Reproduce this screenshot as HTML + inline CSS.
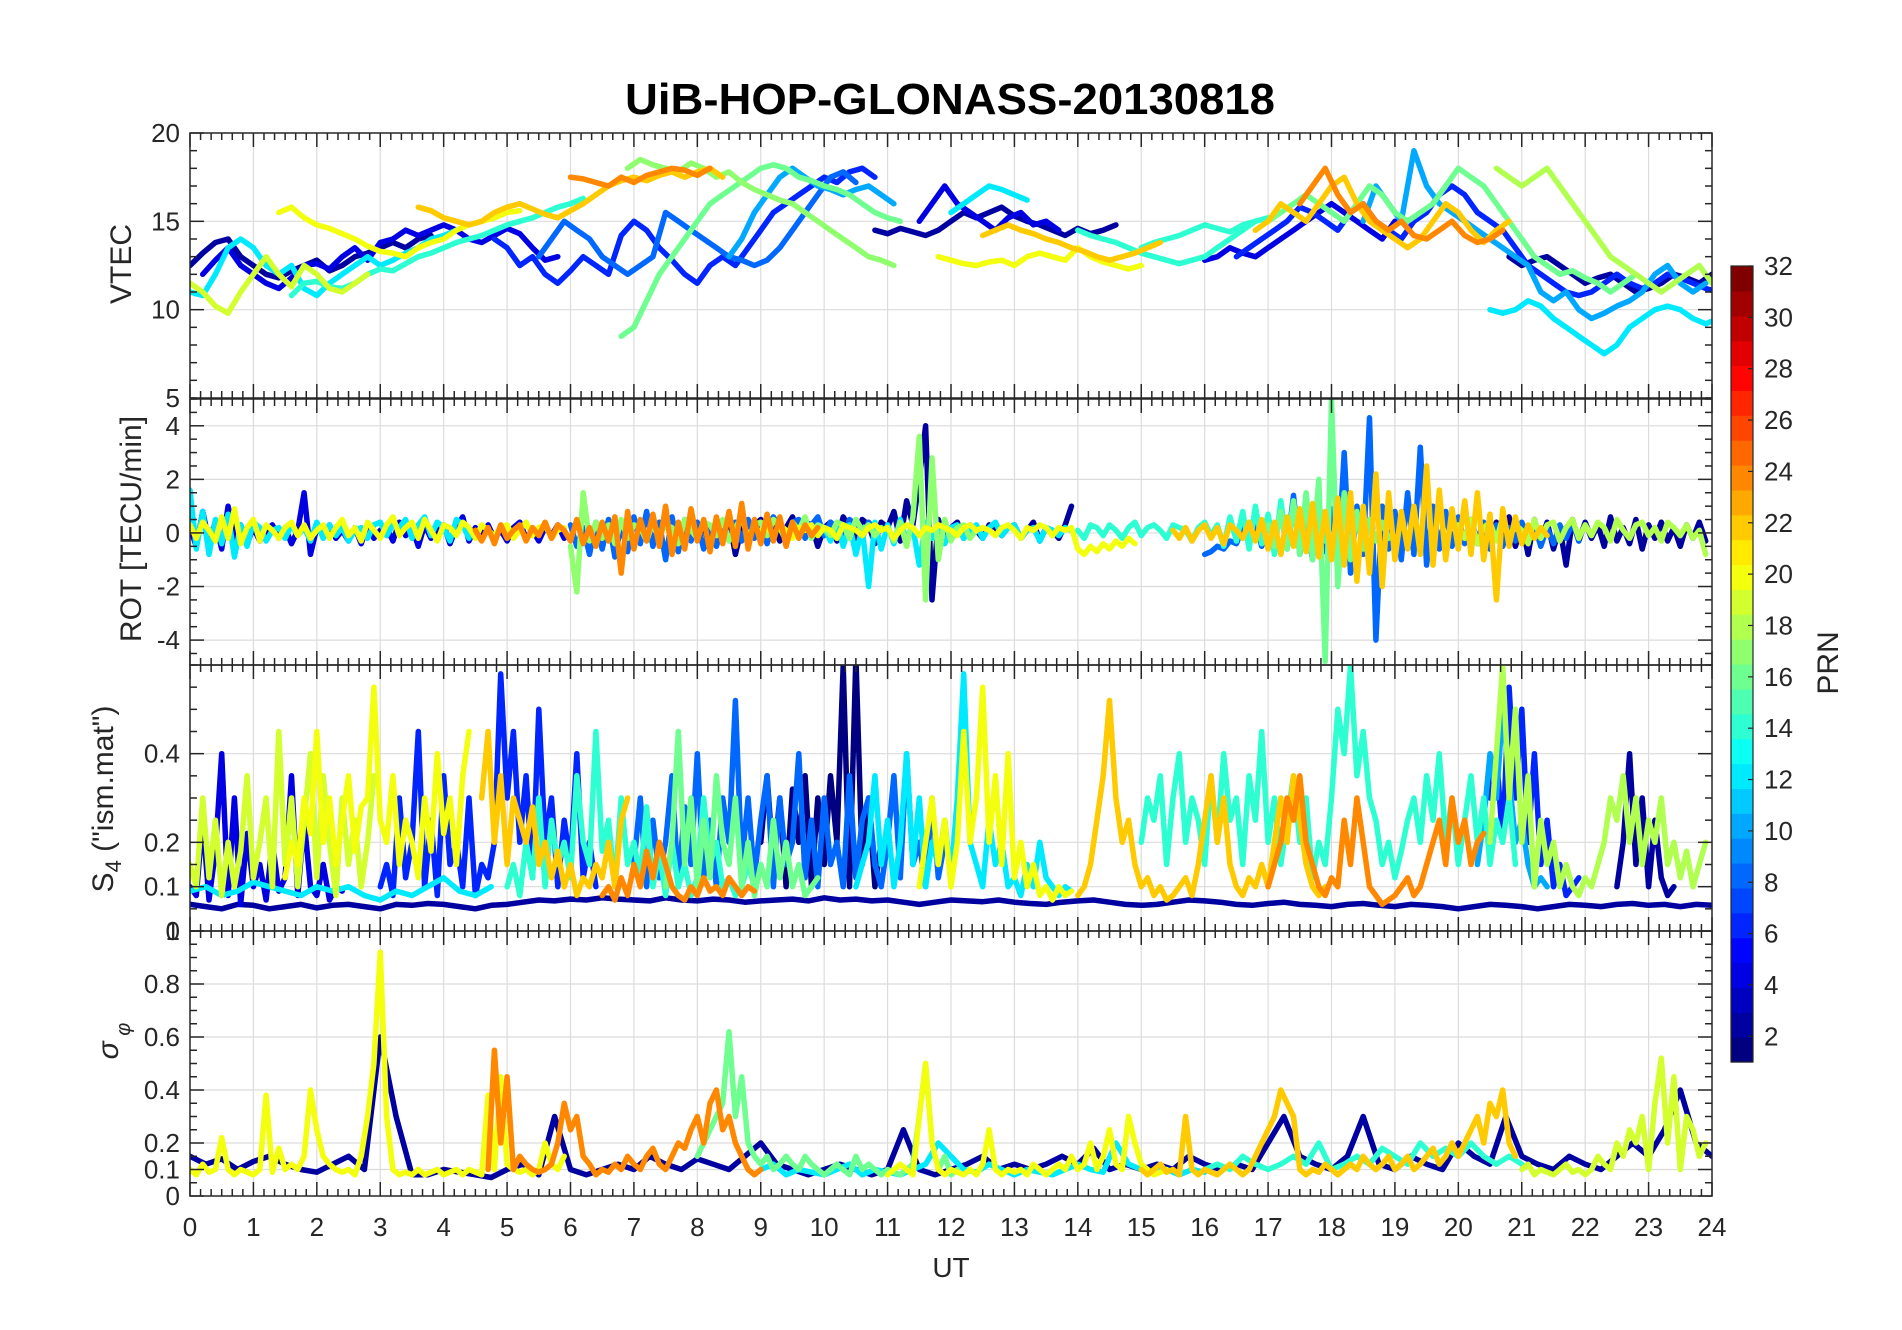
<!DOCTYPE html>
<html><head><meta charset="utf-8"><style>
html,body{margin:0;padding:0;background:#fff;}
svg{display:block;font-family:"Liberation Sans",Arial,sans-serif;}
</style></head><body>
<svg id="fig" width="1902" height="1330" viewBox="0 0 1902 1330" xmlns="http://www.w3.org/2000/svg">
<rect x="0" y="0" width="1902" height="1330" fill="#fff"/>
<text x="950" y="114" text-anchor="middle" font-size="44" font-weight="bold" fill="#000" textLength="650" lengthAdjust="spacingAndGlyphs">UiB-HOP-GLONASS-20130818</text>
<g id="panels"></g>
<g id="cbar"></g>
<text x="951" y="1277" text-anchor="middle" font-size="28" fill="#262626">UT</text>
<text transform="translate(131,264) rotate(-90)" text-anchor="middle" font-size="30" fill="#262626">VTEC</text>
<text transform="translate(141,529) rotate(-90)" text-anchor="middle" font-size="30" fill="#262626">ROT [TECU/min]</text>
<text transform="translate(113,799) rotate(-90)" text-anchor="middle" font-size="30" fill="#262626">S<tspan font-size="22" dy="8">4</tspan><tspan dy="-8"> ("ism.mat")</tspan></text>
<text transform="translate(118,1041) rotate(-90)" text-anchor="middle" font-size="30" font-style="italic" fill="#262626">σ<tspan font-size="20" dy="12"> φ</tspan></text>
<text transform="translate(1838,663) rotate(-90)" text-anchor="middle" font-size="30" fill="#262626">PRN</text>
</svg>
<script>
// ---------- DATA ----------
const xTicks = [0,1,2,3,4,5,6,7,8,9,10,11,12,13,14,15,16,17,18,19,20,21,22,23,24];
const cbarTicks = [2,4,6,8,10,12,14,16,18,20,22,24,26,28,30,32];

const vtecPrn = [2,4,6,8,10,12,14,16,17,20,22,24,19,2,4,12,20,22,14,6,10,12,16,22,24,2,18,4,14];
const vtecStart = [0,0.2,4.8,5.5,8.5,0,1.6,6.8,6.9,1.4,3.6,6,0,10.8,11.5,12,11.8,12.5,14,16.5,18.5,20.5,17,16.8,17.5,20.8,20.6,16,15];
const vtecValues = [
[12.5,13.2,13.8,14,13,12.5,12,11.8,12.2,12.5,12.8,12.2,12.5,13,13.2,13.5,13.8,13.5,14,14.2],
[12,12.8,13.5,12.5,12,11.5,11.2,11.8,12.5,12.6,12.3,13,13.5,12.8,13.8,14,14.5,14.2,14.5,14.8,14.5,14,13.8,14.2,14.6,14.3,13.5,12.8,13],
[14,13.5,12.5,13,12,11.5,12.2,13,12.5,12,14.2,15,14.5,13.5,12.8,12,11.5,12.5,13,12.5,13.5,14.5,15.5,16,16.5,17,17.5,17.2,17.8,18,17.5],
[13,14,15,14.5,14,13,12.5,12,12.5,13,15.5,15,14.5,14,13.5,13,12.8,12.5,12.8,13.5,14.5,15.5,16.5,17.5,17.8,17.2],
[13,14,15.5,16.5,17.5,18,17.5,17,16.8,16.5,16.8,17,16.5,16],
[11,10.8,12,13.5,14,13.5,12.5,12,12.5,11.2,10.8,11.5,12,12.5,13,12.5,12.8,13.2,13.5,14,14.2,14.5],
[10.8,11.5,11.6,11.3,11.2,11.5,12,12.3,12.2,12.6,13,13.2,13.5,13.8,14,14.2,14.5,14.8,15,15.2,15.5,15.8,16,16.3],
[8.5,9,10.5,12,13,14,15,16,16.5,17,17.5,18,18.2,18,17.5,17.3,17,16.8,16.5,16,15.5,15.2,15],
[18,18.5,18.2,18,17.8,18.3,18,17.5,17.8,17.2,16.8,16.5,16.2,16,15.5,15,14.5,14,13.5,13,12.8,12.5],
[15.5,15.8,15.2,14.8,14.6,14.3,14,13.6,13.3,13.2,13,13.5,13.8,14,14.5,14.8,15,15.2,15.5,15.6],
[15.8,15.6,15.2,15,14.8,15,15.5,15.8,16,15.7,15.4,15.2,15.6,16,16.5,17,17.3,17.5,17.3,17.6,17.8,17.5,17.8,18,17.5],
[17.5,17.4,17.2,17,17.5,17.2,17.6,17.8,18,17.9,17.6,18],
[11.5,11,10.2,9.8,11,12,13,12,11.3,12.5,12,11.2,11,11.5,12],
[14.5,14.3,14.6,14.4,14.2,14.5,15,15.5,15.2,15.5,15.8,15.3,15,14.8,14.5,14.2,14.6,14.3,14.5,14.8],
[15,16,17,16,15.5,15,14.5,15.2,15.5,14.8,15,14.5],
[15.5,16,16.5,17,16.8,16.5,16.2],
[13,12.8,12.6,12.5,12.7,12.8,12.5,13,13.2,13,12.8,13.5,13,12.7,12.5,12.3,12.5],
[14.2,14.5,14.8,14.5,14.3,14,13.8,13.5,13.3,13,12.8,13,13.2,13.5,13.8],
[14.5,14.2,14,13.8,13.5,13.2,13,12.8,12.6,12.8,13,13.5,14,14.5,15],
[13,13.5,14,14.5,15,15.8,15.5,15,14.5,15.5,16,15,14.5,14,15,15.5,16.5,17,16.5,15.5,15,14.5,13.5,12.5,12,11.5,11,10.8,11,11.5,12,11.5,11.2,11.5,12,11.8,11.5,11.2,11],
[15,17,16,15,19,17,16,15.5,15,14.5,14,13.5,13,12.5,11,10.5,11,10,9.5,9.8,10.2,10.5,11,12,12.5,11.5,11,11.5],
[10,9.8,10,10.5,10.2,9.5,9,8.5,8,7.5,8,9,9.5,10,10.2,10,9.5,9.2,9.5],
[15,15.5,16,16.5,16,15.5,15,16,17,16.5,15.5,15,15.5,16,17,18,17.5,17,16,15,14,13,12.5,12,12.2,11.8,11.5,11,11.5,12],
[14.5,15,16,15.5,15,16,17,17.5,16,15,14.5,14,13.5,14,15,16,15.5,14.5,13.8,14.5,15],
[16,17,18,16.5,15.5,16,15,14.5,15,14.2,14,14.5,15,14.2,13.8,14,14.5],
[13,12.5,12.8,13,12.5,12,11.5,11.8,12,11.5,11,11.2,11.5,12,11.8,11.5,12,11.5],
[18,17.5,17,17.5,18,17,16,15,14,13,12.5,12,11.5,11,11.5,12,12.5,11.5,11,10.5,10,9.5,9.8,10],
[12.8,13,13.5,13.2,13,13.5,14,14.5,15,15.5,16,15.5,15,14.5,14,15],
[13.5,13.8,14,14.2,14.5,14.8,14.6,14.4,14.8,15,15.2]
];

const rotPrn = [4,12,20,24,8,17,2,12,17,20,14,22,8,16,2,18];
const rotStart = [0,0,0,4.5,6,6,8,10,11,9,14,15.5,16,17,20,20];
const rotValues = [
[0.2,-0.5,0.8,-0.3,0.4,-0.6,1.0,-0.2,0.3,-0.4,0.2,-0.3,0.1,0.3,-0.2,0.2,-0.4,0.1,1.5,-0.8,0.2,-0.1,0.3,-0.2,0.1,-0.3,0.2,-0.4,0.3,-0.2,0.1,0.2,-0.3,0.4,-0.1,0.2,-0.5,0.3,-0.2,0.1,0.3,-0.4,0.2,0.6,-0.3,0.2,-0.1,0.3,-0.2,0.1,-0.3,0.2,0.4,-0.2,0.1,-0.3,0.2,-0.1,0.3,-0.2],
[1.6,-0.6,0.8,-0.8,0.5,-0.4,0.7,-0.9,0.3,-0.5,0.4,0.2,-0.3,0.1,0.2,-0.2,0.3,-0.1,0.2,-0.3,0.4,-0.2,0.3,-0.1,0.2,-0.3,0.1,0.2,-0.2,0.3,0.4,-0.1,0.3,0.2,0.5,-0.2,0.3,0.6,-0.1,0.4,0.2,-0.3,0.5,0.3,-0.2],
[0.3,-0.2,0.4,0.1,-0.3,0.6,-0.2,0.9,-0.4,0.2,0.5,-0.3,0.3,0.1,-0.2,0.2,0.4,-0.1,0.3,-0.2,0.1,0.3,-0.2,0.2,0.5,-0.1,0.2,-0.3,0.4,0.1,-0.2,0.3,0.6,-0.1,0.2,0.4,-0.2,0.5,0.1,-0.3,0.3,0.2,-0.1,0.4,0.2,-0.2,0.3,0.1,-0.1,0.2,0.3,-0.2,0.1,0.4,-0.1,0.2,0.3,-0.2,0.1,0.2],
[0.1,-0.3,0.2,-0.4,0.3,-0.2,0.1,0.3,-0.3,0.2,-0.1,0.4,-0.2,0.3,0.1,-0.3,0.5,-0.4,0.2,-0.5,0.4,-0.3,0.6,-1.5,0.8,-0.6,0.5,-0.3,0.7,-0.5,1.0,-0.8,0.4,-0.6,0.9,-0.3,0.5,-0.7,0.6,-0.4,0.8,-0.5,1.1,-0.6,0.5,-0.4,0.7,-0.3,0.6,-0.5,0.4,-0.2,0.3,-0.1,0.2],
[0.3,-0.5,0.2,-0.8,0.4,-0.6,0.5,-0.9,0.3,-0.7,0.6,-0.4,0.8,-0.5,0.4,-1.0,0.6,-0.7,0.5,-0.3,0.4,-0.6,0.2,-0.5,0.3,-0.2,0.4,-0.3,0.5,-0.2,0.3,-0.4,0.6,0.2,-0.3,0.4,0.5,-0.2,0.3,0.6,-0.1,0.4,0.2,-0.3,0.5,0.3,-0.2,0.4,0.1,0.2],
[-0.5,-2.2,1.5,-0.3,0.4,-0.2,0.3,-0.4,0.5,-0.2,0.3,0.2,-0.3,0.4,-0.1,0.3,0.2,-0.4,0.5,0.1,-0.2,0.4,0.3,-0.1,0.5,-0.3,0.2,0.6,-0.2,0.3,0.4,-0.1,0.5,0.2,-0.3,0.4,0.1,0.6,-0.2,0.3,0.2,-0.1,0.4,0.3,-0.2,0.5,0.1,0.3,-0.1,0.2],
[-0.2,0.3,-0.6,0.4,-0.3,0.5,-0.8,0.2,-0.4,0.3,0.5,-0.2,0.4,-0.3,0.2,0.6,-0.1,0.4,0.3,-0.5,0.2,0.4,-0.3,0.6,0.2,-0.2,0.5,0.3,-0.4,0.4,0.2,0.8,-0.3,1.2,0.3,2.0,4.0,-2.5,0.5,-0.3,0.2,0.4,-0.2,0.3,0.1,-0.2,0.3,0.2,-0.1,0.2,0.3,-0.2,0.1,0.4,-0.3,0.2,0.1,-0.2,0.3,1.0],
[0.2,-0.3,0.4,-0.5,0.3,-0.8,0.2,-2.0,0.4,-0.6,0.3,-0.4,0.5,-0.3,0.2,-1.2,0.4,-0.2,0.3,-0.4,0.2,0.3,-0.2,0.1,0.3,-0.2,0.2,0.4,-0.1,0.2,0.3,-0.2,0.1,0.2,-0.3,0.2,0.1,-0.1,0.2,0.1],
[0.2,-0.3,0.4,-0.5,0.6,3.6,-2.5,2.8,-1.0,0.5,-0.3,0.2,0.3,-0.2,0.1],
[0.1,0.2,-0.1,0.3,0.1,-0.2,0.2,0.1,0.3,-0.1,0.2,0.1,-0.2,0.3,0.2,0.1,-0.1,0.2,0.3,0.1,0.2,-0.2,0.1,0.3,0.2,-0.1,0.2,0.1,0.3,0.2,0.1,-0.1,0.2,0.3,0.1,0.2,0.1,-0.1,0.2,0.3,0.1,-0.2,0.2,0.1,0.3,0.2,-0.1,0.2,0.1,0.2,-0.6,-0.8,-0.5,-0.7,-0.4,-0.6,-0.3,-0.5,-0.2,-0.4],
[0.1,-0.2,0.3,0.2,-0.1,0.3,0.1,-0.2,0.2,0.4,-0.1,0.2,0.3,0.1,-0.2,0.3,0.2,0.1,-0.3,0.2,0.4,-0.1,0.3,-0.5,0.6,-0.3,0.8,-0.6,1.0,-0.4,0.7,-0.8,1.2,-0.6,0.9,-0.5,0.6,-0.4,0.8,-0.3],
[0.1,-0.2,0.2,-0.3,0.1,0.3,-0.2,0.2,-0.4,0.3,0.1,-0.2,0.4,-0.3,0.5,-0.6,0.4,-0.8,0.6,-0.5,0.9,-0.7,1.1,-0.9,0.8,-1.0,1.3,-1.2,1.5,-1.8,1.0,-1.5,2.2,-2.0,1.5,-1.0,0.8,-0.6,1.0,-0.8,2.5,-1.2,1.6,-1.0,0.9,-0.6,1.2,-0.8,1.5,-1.0,0.7,-2.5,0.9,-0.5,0.6,-0.4,0.3,-0.2,0.2,-0.1],
[-0.8,-0.7,-0.5,-0.6,-0.3,-0.4,0.2,-0.3,0.4,-0.5,0.6,-0.3,0.8,-0.6,1.4,-0.8,0.6,-1.0,1.2,-0.7,0.9,-1.2,3.0,-1.5,1.0,-0.8,4.3,-4.0,1.0,-0.6,0.8,-1.0,1.5,-0.8,3.2,-1.2,1.0,-0.6,0.8,-0.5,0.6,-0.4,0.5,-0.3,0.4,-0.6,0.3,-0.5,0.2,-0.3,0.4,-0.2,0.3,-0.5,0.2,-0.4,0.3,-0.2,0.4,-0.3],
[0.3,-0.5,0.8,-0.6,1.2,-0.8,1.5,-1.0,2.0,-4.8,5.0,-2.0,1.5,-1.0,0.8,-0.6,0.5,-0.3,0.4,-0.2],
[0.2,-0.3,0.5,-0.4,0.3,-0.6,0.4,-0.2,0.6,-0.5,0.3,-0.8,0.5,-0.3,0.4,-0.6,0.2,-1.2,0.5,-0.3,0.4,-0.2,0.3,-0.5,0.6,-0.3,0.2,-0.4,0.5,-0.6,0.3,-0.2,0.4,-0.3,0.2,-0.5,0.3,-0.2,0.4,-0.3],
[0.3,-0.2,0.5,-0.4,0.2,0.4,-0.3,0.6,-0.2,0.3,0.1,-0.4,0.5,-0.2,0.3,0.4,-0.3,0.2,0.5,-0.2,0.3,-0.1,0.4,0.2,-0.3,0.5,0.1,-0.2,0.3,0.4,-0.1,0.2,-0.3,0.4,0.2,-0.1,0.3,-0.2,0.1,-0.8]
];

const s4Prn = [2,12,19,20,4,6,22,14,24,8,1,12,20,16,22,14,24,18,6,10,2];
const s4Start = [0,0,0,1.5,0,3,4.6,5,6.5,7,9,10.5,11.5,7.5,14,15,17,20.5,20.5,20.3,22.5];
const s4Step = [0.25,0.25,0.1,0.1,0.1,0.1,0.1,0.1,0.1,0.1,0.1,0.1,0.1,0.1,0.1,0.1,0.1,0.1,0.1,0.1,0.1];
const s4Values = [
[0.06,0.055,0.05,0.06,0.058,0.05,0.055,0.06,0.052,0.058,0.06,0.055,0.05,0.06,0.058,0.062,0.06,0.055,0.05,0.058,0.06,0.065,0.07,0.068,0.072,0.07,0.075,0.072,0.07,0.068,0.075,0.07,0.068,0.072,0.07,0.065,0.068,0.07,0.072,0.068,0.075,0.07,0.072,0.068,0.07,0.065,0.06,0.065,0.07,0.068,0.066,0.07,0.065,0.062,0.06,0.065,0.068,0.07,0.065,0.06,0.058,0.06,0.065,0.07,0.068,0.065,0.06,0.058,0.062,0.065,0.06,0.058,0.055,0.06,0.062,0.058,0.055,0.06,0.058,0.055,0.05,0.055,0.06,0.058,0.055,0.05,0.055,0.06,0.058,0.055,0.06,0.062,0.058,0.06,0.055,0.06,0.058],
[0.09,0.1,0.08,0.09,0.11,0.1,0.09,0.08,0.1,0.09,0.1,0.08,0.07,0.09,0.08,0.1,0.12,0.09,0.08,0.1],
[0.15,0.1,0.3,0.12,0.25,0.08,0.2,0.1,0.18,0.35,0.12,0.2,0.3,0.1,0.45,0.15,0.3,0.1,0.25,0.4,0.12,0.35,0.2,0.08,0.3,0.15,0.25,0.1,0.2,0.35],
[0.12,0.2,0.15,0.3,0.22,0.45,0.2,0.3,0.15,0.25,0.35,0.18,0.28,0.3,0.55,0.25,0.2,0.35,0.15,0.25,0.2,0.12,0.3,0.18,0.4,0.22,0.3,0.15,0.35,0.45],
[0.1,0.08,0.25,0.07,0.18,0.4,0.08,0.3,0.06,0.22,0.1,0.15,0.07,0.2,0.09,0.12,0.35,0.08,0.25,0.1,0.08,0.15,0.07,0.1,0.09],
[0.1,0.15,0.08,0.3,0.12,0.2,0.45,0.1,0.25,0.08,0.35,0.15,0.2,0.1,0.3,0.08,0.15,0.12,0.2,0.58,0.3,0.45,0.2,0.35,0.12,0.5,0.2,0.3,0.1,0.25,0.15,0.4,0.12,0.2,0.1],
[0.3,0.45,0.2,0.35,0.15,0.3,0.25,0.2,0.28,0.15,0.2,0.12,0.18,0.1,0.15,0.08,0.12,0.1,0.15,0.12,0.2,0.1,0.25,0.3],
[0.1,0.15,0.08,0.2,0.12,0.3,0.1,0.25,0.15,0.2,0.12,0.35,0.2,0.15,0.45,0.18,0.25,0.1,0.3,0.15,0.2,0.12,0.28,0.1,0.18,0.08,0.2,0.1,0.15,0.08,0.12,0.3,0.15,0.2,0.1,0.12,0.08,0.1,0.15,0.1],
[0.08,0.1,0.07,0.12,0.08,0.15,0.1,0.18,0.12,0.2,0.15,0.1,0.08,0.07,0.1,0.08,0.12,0.09,0.1,0.08,0.12,0.1,0.08,0.1,0.09],
[0.15,0.3,0.1,0.25,0.12,0.2,0.35,0.1,0.28,0.15,0.4,0.12,0.25,0.1,0.3,0.2,0.52,0.15,0.3,0.12,0.25,0.35,0.1,0.3,0.15,0.2,0.4,0.12,0.25,0.1,0.3,0.15,0.2,0.1,0.35,0.12,0.25,0.3,0.15,0.1,0.2,0.35,0.12,0.4,0.15,0.2,0.1,0.3,0.12,0.2],
[0.2,0.35,0.15,0.3,0.1,0.32,0.2,0.35,0.1,0.3,0.15,0.35,0.2,0.6,0.1,0.62,0.15,0.3,0.1,0.2],
[0.1,0.15,0.2,0.35,0.15,0.25,0.1,0.2,0.4,0.15,0.3,0.1,0.2,0.15,0.25,0.12,0.3,0.58,0.2,0.15,0.1,0.25,0.15,0.2,0.1,0.12,0.08,0.15,0.1,0.2,0.12,0.1,0.08,0.1,0.09],
[0.1,0.2,0.3,0.15,0.25,0.1,0.2,0.45,0.2,0.3,0.55,0.2,0.35,0.15,0.4,0.12,0.2,0.1,0.15,0.08,0.1,0.07,0.1,0.08,0.09],
[0.1,0.2,0.45,0.15,0.3,0.1,0.25,0.12,0.35,0.2,0.15,0.3,0.1,0.2,0.08,0.15,0.1,0.25,0.12,0.2,0.1,0.15,0.08,0.1,0.12],
[0.08,0.1,0.15,0.25,0.35,0.52,0.3,0.2,0.25,0.15,0.1,0.12,0.08,0.1,0.07,0.08,0.1,0.12,0.08,0.15,0.25,0.35,0.2,0.3,0.15,0.1,0.08,0.12,0.1,0.15,0.1,0.2,0.3,0.2,0.35,0.25,0.15,0.1,0.08,0.1],
[0.2,0.3,0.25,0.35,0.15,0.3,0.4,0.2,0.3,0.25,0.15,0.35,0.2,0.4,0.25,0.3,0.15,0.35,0.25,0.45,0.2,0.3,0.15,0.25,0.35,0.2,0.3,0.12,0.2,0.15,0.3,0.5,0.4,0.6,0.35,0.45,0.3,0.25,0.15,0.2,0.12,0.18,0.25,0.3,0.2,0.35,0.25,0.4,0.2,0.3,0.15,0.25,0.35,0.2,0.3,0.15,0.25,0.2,0.3,0.15],
[0.1,0.15,0.2,0.3,0.25,0.35,0.2,0.15,0.1,0.08,0.12,0.1,0.25,0.15,0.3,0.2,0.1,0.08,0.06,0.07,0.08,0.1,0.12,0.08,0.1,0.15,0.2,0.25,0.15,0.3,0.2,0.25,0.15,0.2,0.22],
[0.2,0.4,0.6,0.3,0.5,0.2,0.35,0.1,0.25,0.15,0.2,0.1,0.15,0.1,0.08,0.12,0.1,0.15,0.2,0.3,0.25,0.35,0.2,0.3,0.15,0.25,0.2,0.3,0.15,0.2,0.12,0.18,0.1,0.15,0.2],
[0.3,0.4,0.2,0.55,0.3,0.5,0.2,0.4,0.15,0.25,0.1,0.15,0.08,0.1,0.12],
[0.15,0.25,0.4,0.3,0.5,0.35,0.2,0.25,0.15,0.1,0.12,0.1],
[0.1,0.2,0.4,0.15,0.3,0.1,0.25,0.12,0.08,0.1]
];

const sigPrn = [2,12,20,24,16,20,22,14,19];
const sigStart = [0,9,0,4.7,8,11,15,16,21];
const sigStep = [0.25,0.2,0.1,0.1,0.1,0.1,0.1,0.2,0.1];
const sigValues = [
[0.15,0.12,0.14,0.1,0.13,0.15,0.12,0.1,0.09,0.12,0.15,0.1,0.6,0.3,0.08,0.08,0.1,0.09,0.08,0.07,0.1,0.12,0.08,0.3,0.1,0.08,0.1,0.12,0.1,0.15,0.12,0.1,0.14,0.12,0.1,0.15,0.2,0.12,0.1,0.08,0.1,0.12,0.1,0.08,0.1,0.25,0.1,0.08,0.1,0.12,0.15,0.1,0.12,0.1,0.12,0.15,0.12,0.18,0.1,0.12,0.1,0.12,0.1,0.15,0.12,0.1,0.12,0.1,0.2,0.3,0.15,0.12,0.1,0.15,0.3,0.12,0.1,0.15,0.12,0.1,0.2,0.15,0.12,0.3,0.15,0.12,0.1,0.15,0.12,0.1,0.15,0.2,0.15,0.25,0.4,0.2,0.15],
[0.1,0.12,0.08,0.1,0.09,0.08,0.1,0.12,0.08,0.1,0.09,0.08,0.1,0.12,0.2,0.15,0.1,0.09,0.12,0.1,0.08,0.1,0.09,0.08,0.1,0.12,0.1,0.09,0.2,0.12,0.1,0.09,0.1,0.08,0.1,0.09],
[0.1,0.08,0.12,0.09,0.1,0.22,0.1,0.08,0.1,0.09,0.08,0.1,0.38,0.09,0.18,0.1,0.12,0.1,0.15,0.4,0.25,0.15,0.12,0.1,0.09,0.1,0.08,0.15,0.3,0.5,0.92,0.3,0.1,0.08,0.09,0.08,0.1,0.08,0.09,0.1,0.08,0.09,0.1,0.08,0.1,0.09,0.08,0.38,0.1,0.45,0.12,0.1,0.09,0.1,0.08,0.1,0.2,0.12,0.1,0.15],
[0.1,0.55,0.2,0.45,0.1,0.15,0.12,0.1,0.09,0.1,0.12,0.2,0.35,0.25,0.3,0.15,0.12,0.08,0.1,0.09,0.12,0.1,0.15,0.12,0.1,0.15,0.18,0.12,0.1,0.15,0.2,0.18,0.25,0.3,0.2,0.35,0.4,0.25,0.3,0.2,0.15,0.1,0.08,0.1],
[0.15,0.2,0.25,0.3,0.35,0.62,0.3,0.45,0.2,0.15,0.12,0.15,0.1,0.12,0.15,0.12,0.1,0.15,0.12,0.1,0.08,0.1,0.12,0.1,0.08,0.15,0.1,0.12,0.1,0.08,0.1,0.09,0.08,0.1,0.12,0.3,0.5,0.2,0.1,0.15,0.08,0.1],
[0.08,0.1,0.12,0.1,0.08,0.3,0.5,0.2,0.1,0.08,0.1,0.09,0.08,0.1,0.08,0.12,0.25,0.1,0.08,0.1,0.09,0.1,0.08,0.12,0.1,0.08,0.1,0.12,0.1,0.15,0.1,0.12,0.2,0.1,0.15,0.25,0.12,0.1,0.3,0.2,0.12,0.1,0.08,0.09,0.1],
[0.1,0.08,0.1,0.12,0.09,0.1,0.08,0.3,0.1,0.08,0.1,0.09,0.08,0.1,0.12,0.1,0.08,0.1,0.15,0.2,0.25,0.3,0.4,0.35,0.3,0.1,0.08,0.1,0.09,0.12,0.1,0.08,0.1,0.12,0.1,0.15,0.12,0.1,0.12,0.15,0.1,0.12,0.15,0.1,0.12,0.15,0.18,0.12,0.15,0.2,0.15,0.2,0.25,0.3,0.2,0.35,0.3,0.4,0.2,0.15],
[0.1,0.12,0.1,0.15,0.12,0.1,0.12,0.15,0.12,0.2,0.1,0.12,0.15,0.12,0.18,0.15,0.12,0.2,0.15,0.18,0.15,0.2,0.15,0.12,0.15,0.12],
[0.1,0.12,0.08,0.1,0.09,0.08,0.1,0.12,0.09,0.1,0.08,0.1,0.15,0.12,0.1,0.2,0.15,0.25,0.2,0.3,0.1,0.35,0.52,0.2,0.45,0.1,0.3,0.25,0.15,0.2]
];

// ---------- RENDER ----------
const NS = 'http://www.w3.org/2000/svg';
const X0 = 190, X1 = 1712;
const xScale = h => X0 + (X1 - X0) * h / 24;
function jet(p){
  const x = (p - 1) / 31;
  const c = v => Math.round(255 * Math.max(0, Math.min(1, v)));
  return 'rgb(' + c(1.5 - Math.abs(4*x - 3)) + ',' + c(1.5 - Math.abs(4*x - 2)) + ',' + c(1.5 - Math.abs(4*x - 1)) + ')';
}
function mk(tag, attrs, parent){
  const e = document.createElementNS(NS, tag);
  for (const k in attrs) e.setAttribute(k, attrs[k]);
  parent.appendChild(e);
  return e;
}
const panelsG = document.getElementById('panels');
const panels = [
  {key:'vtec', top:133, bot:398, lo:5, hi:20, ticks:[10,15,20], labels:['10','15','20'], minor:1, prn:vtecPrn, start:vtecStart, step:null, vals:vtecValues, extraLabel:{v:5,t:'5'}},
  {key:'rot', top:399, bot:665, lo:-4.93, hi:5, ticks:[-4,-2,0,2,4], labels:['-4','-2','0','2','4'], minor:0.5, prn:rotPrn, start:rotStart, step:null, vals:rotValues},
  {key:'s4', top:665, bot:931, lo:0, hi:0.6, ticks:[0,0.1,0.2,0.4], labels:['0','0.1','0.2','0.4'], minor:0.05, prn:s4Prn, start:s4Start, step:s4Step, vals:s4Values},
  {key:'sigma', top:931, bot:1196, lo:0, hi:1, ticks:[0,0.1,0.2,0.4,0.6,0.8,1], labels:['0','0.1','0.2','0.4','0.6','0.8','1'], minor:0.05, prn:sigPrn, start:sigStart, step:sigStep, vals:sigValues}
];
const defStep = {vtec:0.2, rot:0.1};
panels.forEach((p, pi) => {
  const g = mk('g', {}, panelsG);
  
  
  const yS = v => p.bot - (p.bot - p.top) * (v - p.lo) / (p.hi - p.lo);
  const grid = mk('g', {stroke:'#dcdcdc', 'stroke-width':1.2}, g);
  
  
  xTicks.forEach(t => { if (t > 0 && t < 24) mk('line', {x1:xScale(t), x2:xScale(t), y1:p.top, y2:p.bot}, grid); });
  p.ticks.forEach(t => { const y = yS(t); if (y > p.top + 1 && y < p.bot - 1) mk('line', {x1:X0, x2:X1, y1:y, y2:y}, grid); });
  const cid = 'clip' + pi;
  const cp = mk('clipPath', {id:cid}, g);
  mk('rect', {x:X0, y:p.top, width:X1 - X0, height:p.bot - p.top}, cp);
  const dg = mk('g', {'clip-path':'url(#' + cid + ')'}, g);
  
  
  const order = p.prn.map((v, i) => i).sort((a, b) => p.prn[a] - p.prn[b]);
  order.forEach(i => {
    const st = p.step ? p.step[i] : defStep[p.key];
    const pts = p.vals[i].map((v, k) => xScale(p.start[i] + k * st).toFixed(1) + ',' + yS(v).toFixed(1)).join(' ');
    const pl = mk('polyline', {points:pts, fill:'none', stroke:jet(p.prn[i]), 'stroke-width':5.5, 'stroke-linejoin':'round', 'stroke-linecap':'round'}, dg);
    
    
  });
  const ax = mk('g', {stroke:'#262626', 'stroke-width':1.5, fill:'none'}, g);
  
  
  mk('rect', {x:X0, y:p.top, width:X1 - X0, height:p.bot - p.top}, ax);
  for (let m = 0; m <= 144; m++) {
    const x = xScale(m / 6);
    const L = (m % 6 === 0) ? 14 : 7;
    mk('line', {x1:x, x2:x, y1:p.top, y2:p.top + L}, ax);
    mk('line', {x1:x, x2:x, y1:p.bot, y2:p.bot - L}, ax);
  }
  for (let v = Math.ceil(p.lo / p.minor) * p.minor; v <= p.hi + 1e-9; v += p.minor) {
    const y = yS(v);
    const major = p.ticks.some(t => Math.abs(t - v) < 1e-6);
    const L = major ? 14 : 7;
    mk('line', {x1:X0, x2:X0 + L, y1:y, y2:y}, ax);
    mk('line', {x1:X1, x2:X1 - L, y1:y, y2:y}, ax);
  }
  p.ticks.forEach((t, k) => {
    const tx = mk('text', {x:180, y:yS(t) + 9, 'text-anchor':'end', 'font-size':26, fill:'#262626'}, g);
    tx.textContent = p.labels[k];
    
    
  });
  if (p.extraLabel) {
    const tx = mk('text', {x:180, y:yS(p.extraLabel.v) + 9, 'text-anchor':'end', 'font-size':26, fill:'#262626'}, g);
    tx.textContent = p.extraLabel.t;
    
    
  }
});
xTicks.forEach(t => {
  const tx = mk('text', {x:xScale(t), y:1236, 'text-anchor':'middle', 'font-size':26, fill:'#262626'}, panelsG);
  tx.textContent = String(t);
  
  
});
const cb = document.getElementById('cbar');
const CB = {x:1731, w:22, top:266, bot:1062, lo:1, hi:32};
const cY = v => CB.bot - (CB.bot - CB.top) * (v - CB.lo) / (CB.hi - CB.lo);
const bh = (CB.bot - CB.top) / 32;
for (let i = 1; i <= 32; i++) {
  const r = mk('rect', {x:CB.x, y:CB.bot - i * bh, width:CB.w, height:bh + 0.6, fill:jet(i)}, cb);
  
  
}
mk('rect', {x:CB.x, y:CB.top, width:CB.w, height:CB.bot - CB.top, fill:'none', stroke:'#262626', 'stroke-width':1.2}, cb);
cbarTicks.forEach(t => {
  const y = cY(t);
  mk('line', {x1:CB.x + CB.w - 5, x2:CB.x + CB.w, y1:y, y2:y, stroke:'#262626', 'stroke-width':1.2}, cb);
  const tx = mk('text', {x:1764, y:y + 9, 'font-size':26, fill:'#262626'}, cb);
  tx.textContent = String(t);
  
  
});
</script>
</body></html>
